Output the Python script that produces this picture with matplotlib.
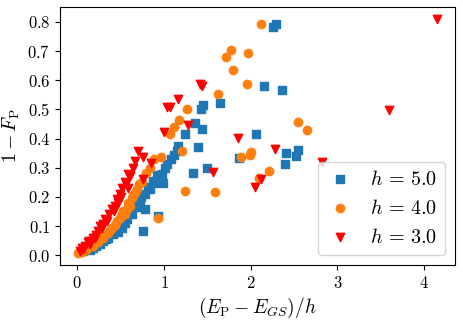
import matplotlib
matplotlib.use("Agg")
import matplotlib.pyplot as plt

plt.rcParams['mathtext.fontset'] = 'cm'
plt.rcParams['font.family'] = 'serif'
plt.rcParams['font.serif'] = ['cmr10', 'DejaVu Serif']
plt.rcParams['axes.formatter.use_mathtext'] = True

# h = 5.0 (quadrados azuis)
x_h5 = [2.26, 2.29, 2.15, 2.36, 1.65, 1.43, 1.45, 2.06, 1.86, 2.41, 2.55, 2.52, 2.40,
        1.24, 1.44, 1.16, 1.15, 1.39, 1.50, 1.33, 1.03, 1.01, 0.99, 1.36,
        0.95, 0.89, 0.84, 0.78, 0.78, 0.93, 0.76, 0.63, 0.57, 0.52, 0.41, 0.30,
        0.18, 0.07, 0.72, 0.26, 0.15, 0.47, 0.36, 0.68,
        1.08, 0.98, 0.87, 0.81, 0.74, 0.66, 0.60, 0.55, 0.44, 0.33, 0.22, 0.11, 1.12, 0.92]
y_h5 = [0.783, 0.792, 0.581, 0.567, 0.522, 0.500, 0.516, 0.416, 0.333, 0.350, 0.361, 0.340, 0.313,
        0.416, 0.433, 0.375, 0.357, 0.371, 0.299, 0.282, 0.313, 0.299, 0.247, 0.454,
        0.265, 0.247, 0.227, 0.210, 0.158, 0.134, 0.082, 0.141, 0.124, 0.093, 0.072, 0.048,
        0.024, 0.014, 0.190, 0.040, 0.018, 0.080, 0.060, 0.165,
        0.330, 0.280, 0.255, 0.235, 0.200, 0.175, 0.150, 0.110, 0.085, 0.055, 0.030, 0.020, 0.345, 0.275]

# h = 4.0 (círculos laranja)
x_h4 = [2.12, 1.77, 1.72, 1.97, 1.80, 1.96, 1.62, 2.55, 2.65, 2.00, 1.99, 1.89, 2.21, 2.10,
        1.26, 1.17, 1.12, 1.07, 1.21, 1.24, 1.59, 0.93, 0.97, 0.89, 0.79, 0.66, 0.63,
        0.58, 0.53, 0.46, 0.40, 0.30, 0.18, 0.01, 0.69, 0.61, 0.55, 0.49, 0.35, 0.24, 0.10,
        0.71, 0.64, 0.57, 0.51, 0.43, 0.38, 0.27, 0.14, 0.05, 0.75, 0.84]
y_h4 = [0.794, 0.704, 0.680, 0.694, 0.636, 0.588, 0.553, 0.457, 0.430, 0.354, 0.344, 0.337, 0.289, 0.265,
        0.502, 0.464, 0.440, 0.416, 0.357, 0.220, 0.216, 0.127, 0.337, 0.330, 0.282, 0.213, 0.196,
        0.179, 0.151, 0.117, 0.093, 0.058, 0.031, 0.007, 0.228, 0.170, 0.140, 0.128, 0.075, 0.045, 0.016,
        0.245, 0.205, 0.160, 0.140, 0.105, 0.085, 0.065, 0.035, 0.012, 0.250, 0.300]

# h = 3.0 (triângulos vermelhos)
x_h3 = [4.15, 3.60, 2.82, 1.85, 2.28, 1.56, 2.12, 2.05, 1.44, 1.41, 1.16, 1.03, 1.07, 1.28,
        1.00, 0.70, 0.76, 0.67, 0.85, 0.59, 0.61, 0.76, 0.52, 0.58, 0.46, 0.47, 0.40,
        0.34, 0.30, 0.24, 0.20, 0.15, 0.07, 0.49, 0.44, 0.29, 0.18, 0.09, 0.03, 0.55, 0.37, 0.12,
        0.64, 0.56, 0.50, 0.42, 0.32, 0.26, 0.22, 0.13, 0.05]
y_h3 = [0.810, 0.498, 0.320, 0.402, 0.364, 0.285, 0.262, 0.234, 0.580, 0.587, 0.535, 0.509, 0.509, 0.447,
        0.423, 0.357, 0.337, 0.323, 0.316, 0.278, 0.272, 0.261, 0.230, 0.230, 0.192, 0.180, 0.158,
        0.117, 0.107, 0.082, 0.058, 0.038, 0.021, 0.210, 0.168, 0.093, 0.058, 0.031, 0.014, 0.250, 0.140, 0.045,
        0.300, 0.245, 0.200, 0.150, 0.125, 0.100, 0.070, 0.050, 0.025]

fig = plt.figure(figsize=(4.63, 3.21), dpi=100)
ax = fig.add_axes([0.13, 0.175, 0.853, 0.802])

ax.scatter(x_h5, y_h5, marker='s', color='#1f77b4', s=36, label=r'$h\,=\,5.0$')
ax.scatter(x_h4, y_h4, marker='o', color='#ff7f0e', s=36, label=r'$h\,=\,4.0$')
ax.scatter(x_h3, y_h3, marker='v', color='red', s=36, label=r'$h\,=\,3.0$')

ax.set_xticks([0, 1, 2, 3, 4])
ax.set_yticks([0.0, 0.1, 0.2, 0.3, 0.4, 0.5, 0.6, 0.7, 0.8])
ax.tick_params(labelsize=12)
ax.set_xlabel(r'$(E_{\rm P} - E_{GS})/h$', fontsize=14)
ax.set_ylabel(r'$1 - F_{\rm P}$', fontsize=14)
ax.legend(loc='lower right', fontsize=14.5, handlelength=1.4)

fig.savefig('out.png', dpi=100)
